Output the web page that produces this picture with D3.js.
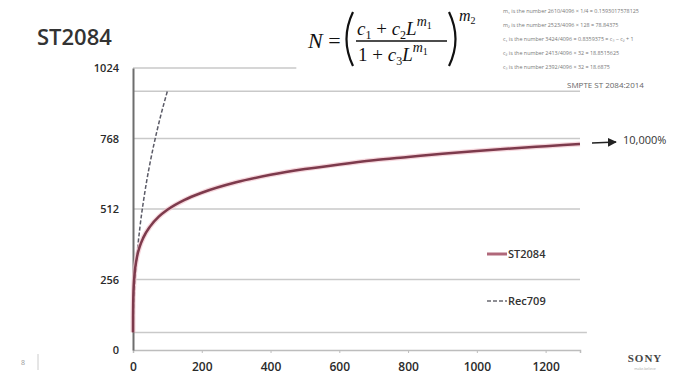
<!DOCTYPE html>
<html>
<head>
<meta charset="utf-8">
<script src="https://cdn.jsdelivr.net/npm/d3@7"></script>
<style>
  html, body { margin: 0; padding: 0; background: #fff; }
  svg { display: block; }
</style>
</head>
<body>
<svg id="chart" width="679" height="381"></svg>
<script>
// ---- data ----
const st2084Nits   = [0, 0.1, 1, 5, 10, 20, 30, 50, 75, 100, 150, 200, 300, 400, 500, 600, 700, 800, 900, 1000, 1100, 1200, 1300];
const st2084Code   = [64, 119, 196, 281, 327, 377, 408, 449, 484, 509, 545, 571, 609, 636, 657, 674, 689, 701, 713, 723, 732, 740, 748];
const rec709Nits   = [0, 1, 2, 5, 10, 20, 30, 40, 50, 60, 70, 80, 90, 100];
const rec709Code   = [64, 103, 143, 227, 319, 444, 537, 615, 682, 742, 797, 848, 895, 940];
const yTicks       = [0, 256, 512, 768, 1024];
const xTicks       = [0, 200, 400, 600, 800, 1000, 1200];
const gridLevels   = [64, 256, 512, 768, 940];
const seriesNames  = ["ST2084", "Rec709"];
const formulaNotes = [
  "m\u2081 is the number 2610/4096 \u00d7 1/4 = 0.1593017578125",
  "m\u2082 is the number 2523/4096 \u00d7 128 = 78.84375",
  "c\u2081 is the number 3424/4096 = 0.8359375 = c\u2083 \u2212 c\u2082 + 1",
  "c\u2082 is the number 2413/4096 \u00d7 32 = 18.8515625",
  "c\u2083 is the number 2392/4096 \u00d7 32 = 18.6875"
];

const svg = d3.select("#chart");
const x = d3.scaleLinear().domain([0, 1300]).range([133, 580]);
const y = d3.scaleLinear().domain([0, 1024]).range([350, 68]);

// title
svg.append("text").attr("x", 37).attr("y", 45)
  .attr("font-family", "Open Sans").attr("font-weight", 600).attr("font-size", 22)
  .attr("fill", "#333").text("ST2084");

// gridlines
svg.append("g").selectAll("line").data(gridLevels).join("line")
  .attr("x1", x(0)).attr("x2", d => d === 64 ? x(1320) : x(1300))
  .attr("y1", d => y(d)).attr("y2", d => y(d))
  .attr("stroke", "#c9c9c9").attr("stroke-width", 1.5);
// top (1024) gridline, partly hidden by the formula box
svg.append("line").attr("x1", x(0)).attr("x2", x(475))
  .attr("y1", y(1024)).attr("y2", y(1024))
  .attr("stroke", "#c9c9c9").attr("stroke-width", 1.5);

// x axis
const xAxis = svg.append("g").attr("transform", `translate(0,${y(0)})`)
  .call(d3.axisBottom(x).tickValues(xTicks).tickSize(3).tickPadding(9).tickFormat(d3.format("d")));
xAxis.select(".domain").attr("stroke", "#bdbdbd").attr("stroke-width", 1.5);
xAxis.selectAll(".tick line").attr("stroke", "#bdbdbd");
xAxis.selectAll("text").attr("font-family", "Open Sans").attr("font-weight", 600)
  .attr("font-size", 12).attr("fill", "#2a2a2a");

// y axis
const yAxis = svg.append("g").attr("transform", `translate(${x(0)},0)`)
  .call(d3.axisLeft(y).tickValues(yTicks).tickSize(0).tickPadding(14).tickFormat(d3.format("d")));
yAxis.select(".domain").attr("stroke", "#6e6e6e").attr("stroke-width", 2);
yAxis.selectAll("text").attr("font-family", "Open Sans").attr("font-weight", 600)
  .attr("font-size", 11).attr("fill", "#2a2a2a");

// series
const line = d3.line().x(d => x(d[0])).y(d => y(d[1])).curve(d3.curveMonotoneX);
const pqData = st2084Nits.map((n, i) => [n, st2084Code[i]]);
const r709Data = rec709Nits.map((n, i) => [n, rec709Code[i]]);

svg.append("path").datum(r709Data).attr("d", line)
  .attr("fill", "none").attr("stroke", "#5a5a66").attr("stroke-width", 1.5)
  .attr("stroke-dasharray", "4,2");
svg.append("path").datum(pqData).attr("d", line)
  .attr("fill", "none").attr("stroke", "#f2c6cf").attr("stroke-width", 5).attr("opacity", 0.7);
svg.append("path").datum(pqData).attr("d", line)
  .attr("fill", "none").attr("stroke", "#7d3a4c").attr("stroke-width", 2.5);

// legend
const leg = svg.append("g");
leg.append("line").attr("x1", 487).attr("x2", 507).attr("y1", 254).attr("y2", 254)
  .attr("stroke", "#b0687a").attr("stroke-width", 3);
leg.append("line").attr("x1", 487).attr("x2", 507).attr("y1", 301).attr("y2", 301)
  .attr("stroke", "#6a6a72").attr("stroke-width", 1.5).attr("stroke-dasharray", "4,2");
leg.selectAll("text").data(seriesNames).join("text")
  .attr("x", 508).attr("y", (d, i) => i === 0 ? 258 : 305)
  .attr("font-family", "Open Sans").attr("font-weight", 600).attr("font-size", 11)
  .attr("fill", "#333").text(d => d);

// 10,000% arrow
svg.append("defs").append("marker").attr("id", "arr").attr("viewBox", "0 0 10 10")
  .attr("refX", 9).attr("refY", 5).attr("markerWidth", 6).attr("markerHeight", 6)
  .attr("orient", "auto").append("path").attr("d", "M0,0L10,5L0,10z").attr("fill", "#222");
svg.append("line").attr("x1", 592).attr("x2", 616).attr("y1", 143).attr("y2", 142)
  .attr("stroke", "#222").attr("stroke-width", 1.5).attr("marker-end", "url(#arr)");
svg.append("text").attr("x", 623).attr("y", 144)
  .attr("font-family", "Open Sans").attr("font-size", 11).attr("fill", "#333").text("10,000%");

// formula
const fm = svg.append("g").attr("font-family", "Liberation Serif").attr("fill", "#111");
fm.append("text").attr("x", 308).attr("y", 48).attr("font-size", 22)
  .html('<tspan font-style="italic">N</tspan> =');
// parentheses
const parenL = d3.path(); parenL.moveTo(353, 12); parenL.quadraticCurveTo(340, 39, 353, 66);
const parenR = d3.path(); parenR.moveTo(449, 12); parenR.quadraticCurveTo(462, 39, 449, 66);
fm.append("path").attr("d", parenL.toString()).attr("fill", "none").attr("stroke", "#111").attr("stroke-width", 2.2);
fm.append("path").attr("d", parenR.toString()).attr("fill", "none").attr("stroke", "#111").attr("stroke-width", 2.2);
fm.append("text").attr("x", 357).attr("y", 35).attr("font-size", 19)
  .html('<tspan font-style="italic">c</tspan><tspan font-size="12" dy="4">1</tspan><tspan dy="-4"> + </tspan><tspan font-style="italic">c</tspan><tspan font-size="12" dy="4">2</tspan><tspan dy="-4" font-style="italic">L</tspan><tspan font-size="14" dy="-9" font-style="italic">m</tspan><tspan font-size="10" dy="3">1</tspan>');
fm.append("line").attr("x1", 356).attr("x2", 447).attr("y1", 41).attr("y2", 41)
  .attr("stroke", "#111").attr("stroke-width", 1.3);
fm.append("text").attr("x", 358).attr("y", 61).attr("font-size", 19)
  .html('1 + <tspan font-style="italic">c</tspan><tspan font-size="12" dy="4">3</tspan><tspan dy="-4" font-style="italic">L</tspan><tspan font-size="14" dy="-9" font-style="italic">m</tspan><tspan font-size="10" dy="3">1</tspan>');
fm.append("text").attr("x", 459).attr("y", 21).attr("font-size", 16)
  .html('<tspan font-style="italic">m</tspan><tspan font-size="10" dy="3">2</tspan>');

// notes
svg.append("g").selectAll("text").data(formulaNotes).join("text")
  .attr("x", 503).attr("y", (d, i) => 13 + i * 14)
  .attr("font-family", "Open Sans").attr("font-size", 5.4).attr("fill", "#777").text(d => d);
svg.append("text").attr("x", 567).attr("y", 88)
  .attr("font-family", "Open Sans").attr("font-size", 8).attr("fill", "#666").text("SMPTE ST 2084:2014");

// footer
svg.append("text").attr("x", 645).attr("y", 362).attr("text-anchor", "middle")
  .attr("font-family", "Liberation Serif").attr("font-weight", "bold").attr("font-size", 11)
  .attr("letter-spacing", 1).attr("fill", "#444").text("SONY");
svg.append("text").attr("x", 645).attr("y", 370).attr("text-anchor", "middle")
  .attr("font-family", "Open Sans").attr("font-size", 3.5).attr("fill", "#aaa").text("make.believe");
svg.append("text").attr("x", 23).attr("y", 365).attr("text-anchor", "middle")
  .attr("font-family", "Open Sans").attr("font-size", 7).attr("fill", "#999").text("8");
svg.append("line").attr("x1", 38).attr("x2", 38).attr("y1", 354).attr("y2", 370)
  .attr("stroke", "#ccc").attr("stroke-width", 1);
</script>
</body>
</html>
